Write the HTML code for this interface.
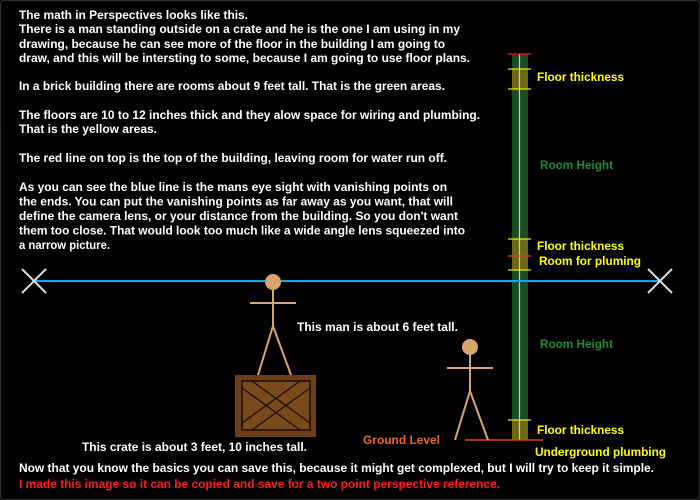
<!DOCTYPE html>
<html><head><style>
html,body{margin:0;padding:0;background:#000;width:700px;height:500px;overflow:hidden}
svg{display:block}
text{font-family:"Liberation Sans",Arial,sans-serif;font-weight:bold;font-size:11.5px}
.w{fill:#fff}.y{fill:#ffff00}.g{fill:#1e8a32}
</style></head><body>
<svg width="700" height="500" viewBox="0 0 700 500">
<rect x="0.5" y="0.5" width="699" height="499" fill="#000" stroke="#333" rx="3"/>
<g class="w">
<text x="19" y="19" textLength="229" lengthAdjust="spacingAndGlyphs">The math in Perspectives looks like this.</text>
<text x="19" y="33" textLength="441" lengthAdjust="spacingAndGlyphs">There is a man standing outside on a crate and he is the one I am using in my</text>
<text x="19" y="48" textLength="426" lengthAdjust="spacingAndGlyphs">drawing, because he can see more of the floor in the building I am going to</text>
<text x="19" y="62" textLength="451" lengthAdjust="spacingAndGlyphs">draw, and this will be intersting to some, because I am going to use floor plans.</text>
<text x="19" y="90" textLength="426" lengthAdjust="spacingAndGlyphs">In a brick building there are rooms about 9 feet tall. That is the green areas.</text>
<text x="19" y="119" textLength="461" lengthAdjust="spacingAndGlyphs">The floors are 10 to 12 inches thick and they alow space for wiring and plumbing.</text>
<text x="19" y="133" textLength="138" lengthAdjust="spacingAndGlyphs">That is the yellow areas.</text>
<text x="19" y="162" textLength="428" lengthAdjust="spacingAndGlyphs">The red line on top is the top of the building, leaving room for water run off.</text>
<text x="19" y="191" textLength="428" lengthAdjust="spacingAndGlyphs">As you can see the blue line is the mans eye sight with vanishing points on</text>
<text x="19" y="205.5" textLength="434" lengthAdjust="spacingAndGlyphs">the ends. You can put the vanishing points as far away as you want, that will</text>
<text x="19" y="220" textLength="439" lengthAdjust="spacingAndGlyphs">define the camera lens, or your distance from the building. So you don't want</text>
<text x="19" y="234.5" textLength="446" lengthAdjust="spacingAndGlyphs">them too close. That would look too much like a wide angle lens squeezed into</text>
<text x="19" y="249" textLength="91" lengthAdjust="spacingAndGlyphs">a narrow picture.</text>
<text x="297" y="331" textLength="161" lengthAdjust="spacingAndGlyphs">This man is about 6 feet tall.</text>
<text x="82" y="451" textLength="225" lengthAdjust="spacingAndGlyphs">This crate is about 3 feet, 10 inches tall.</text>
<text x="19" y="472" textLength="635" lengthAdjust="spacingAndGlyphs">Now that you know the basics you can save this, because it might get complexed, but I will try to keep it simple.</text>
</g>
<text x="19" y="488" fill="#ff1a1a" textLength="481" lengthAdjust="spacingAndGlyphs">I made this image so it can be copied and save for a two point perspective reference.</text>
<text x="363" y="444" fill="#f26522" textLength="77" lengthAdjust="spacingAndGlyphs">Ground Level</text>

<rect x="512" y="54" width="16" height="386" fill="#1b4d23"/>
<rect x="512" y="69" width="16" height="20" fill="#6b6a14"/>
<rect x="512" y="239" width="16" height="31" fill="#6b6a14"/>
<rect x="512" y="420" width="16" height="20" fill="#6b6a14"/>
<line x1="519.5" y1="53" x2="519.5" y2="440" stroke="#c8c8c8" stroke-width="1.2"/>
<line x1="508" y1="54" x2="531" y2="54" stroke="#d01010" stroke-width="1.5"/>
<g stroke="#e8e800" stroke-width="1.3">
<line x1="508" y1="69" x2="531" y2="69"/><line x1="508" y1="89" x2="531" y2="89"/>
<line x1="508" y1="239" x2="531" y2="239"/><line x1="508" y1="270" x2="531" y2="270"/>
<line x1="508" y1="420" x2="531" y2="420"/>
</g>
<line x1="508" y1="256" x2="531" y2="256" stroke="#e04010" stroke-width="1.2"/>
<line x1="465" y1="440" x2="543" y2="440" stroke="#e04010" stroke-width="1.5"/>
<text class="y" x="537" y="81" textLength="87" lengthAdjust="spacingAndGlyphs">Floor thickness</text>
<text class="g" x="540" y="169" textLength="73" lengthAdjust="spacingAndGlyphs">Room Height</text>
<text class="y" x="537" y="250" textLength="87" lengthAdjust="spacingAndGlyphs">Floor thickness</text>
<text class="y" x="539" y="265" textLength="102" lengthAdjust="spacingAndGlyphs">Room for pluming</text>
<text class="g" x="540" y="348" textLength="73" lengthAdjust="spacingAndGlyphs">Room Height</text>
<text class="y" x="537" y="434" textLength="87" lengthAdjust="spacingAndGlyphs">Floor thickness</text>
<text class="y" x="535" y="456" textLength="131" lengthAdjust="spacingAndGlyphs">Underground plumbing</text>

<line x1="34" y1="281" x2="660" y2="281" stroke="#1aa3e0" stroke-width="2"/>
<g stroke="#d8d8d8" stroke-width="2">
<line x1="22" y1="269" x2="46" y2="293"/><line x1="46" y1="269" x2="22" y2="293"/>
<line x1="648" y1="269" x2="672" y2="293"/><line x1="672" y1="269" x2="648" y2="293"/>
</g>

<g stroke="#d9a56e" stroke-width="2" fill="none">
<line x1="273" y1="288" x2="273" y2="326"/>
<line x1="250" y1="303" x2="296" y2="303"/>
<line x1="273" y1="326" x2="258" y2="375"/><line x1="273" y1="326" x2="291" y2="375"/>
</g>
<circle cx="273" cy="282" r="8" fill="#d9a56e"/>
<rect x="235" y="375" width="81" height="62" fill="#6b3f18"/>
<rect x="242" y="381" width="68" height="49" fill="#7a4a1c" stroke="#1a0e04" stroke-width="1.5"/>
<g stroke="#1a0e04" stroke-width="1.3">
<line x1="242" y1="388" x2="300" y2="430"/><line x1="252" y1="381" x2="310" y2="423"/>
<line x1="242" y1="423" x2="300" y2="381"/><line x1="252" y1="430" x2="310" y2="388"/>
</g>
<g stroke="#d9a56e" stroke-width="2" fill="none">
<line x1="470" y1="353" x2="470" y2="391"/>
<line x1="447" y1="368" x2="493" y2="368"/>
<line x1="470" y1="391" x2="455" y2="440"/><line x1="470" y1="391" x2="488" y2="440"/>
</g>
<circle cx="470" cy="347" r="8" fill="#d9a56e"/>
</svg>
</body></html>
